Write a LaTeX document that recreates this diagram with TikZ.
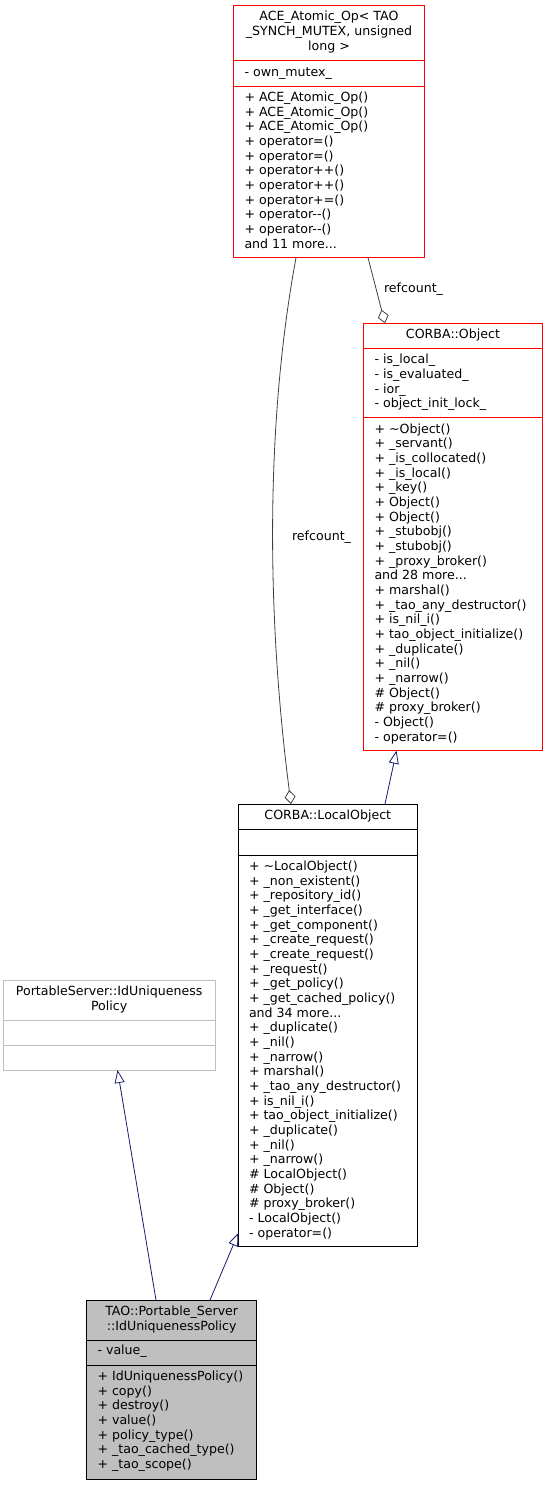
\documentclass[tikz,border=0pt]{standalone}
\usepackage{fontspec}
\setmainfont{DejaVu Sans}
\usetikzlibrary{arrows.meta}
\definecolor{edgenavy}{HTML}{191970}
\definecolor{aggr}{HTML}{404040}
\definecolor{greyfill}{HTML}{BFBFBF}
\begin{document}
\begin{tikzpicture}[x=1pt,y=-1pt,
  txt/.style={inner sep=0pt, outer sep=0pt, anchor=north west, align=left, font=\fontsize{12.6}{14.67}\selectfont},
  ttl/.style={inner sep=0pt, outer sep=0pt, anchor=north, align=center, font=\fontsize{12.6}{14.67}\selectfont},
  cls/.style={draw, line width=0.9pt, inner sep=0pt, outer sep=0pt, anchor=north west},
  sep/.style={line width=0.9pt},
  inh/.style={draw=edgenavy, line width=0.8pt, -{Triangle[open, length=13pt, width=10pt]}},
  agg/.style={draw=aggr, line width=0.8pt, -{Diamond[open, length=14pt, width=11pt]}},
  lbl/.style={inner sep=0pt, font=\fontsize{12.6}{14.67}\selectfont}
]
\useasboundingbox (0,0) rectangle (548,1485);

% ACE_Atomic_Op
\node[cls, draw=red, minimum width=190.5pt, minimum height=252pt] (ace) at (233.5,5.7) {};
\draw[sep, red] (ace.west |- 0,60.7) -- (ace.east |- 0,60.7);
\draw[sep, red] (ace.west |- 0,86) -- (ace.east |- 0,86);
\node[ttl] (acet) at (329,10.5) {\strut ACE\_Atomic\_Op< TAO\\\_SYNCH\_MUTEX, unsigned\\long >};
\node[txt] (acea) at (244.5,66.2) {\strut - own\_mutex\_};
\node[txt] (acem) at (244.5,91.2) {\strut + ACE\_Atomic\_Op()\\+ ACE\_Atomic\_Op()\\+ ACE\_Atomic\_Op()\\+ operator=()\\+ operator=()\\+ operator++()\\+ operator++()\\+ operator+=()\\+ operator-{}-()\\+ operator-{}-()\\and 11 more...};

% CORBA::Object
\node[cls, draw=red, minimum width=179.4pt, minimum height=427.4pt] (obj) at (363.3,323.3) {};
\draw[sep, red] (obj.west |- 0,348.7) -- (obj.east |- 0,348.7);
\draw[sep, red] (obj.west |- 0,417.3) -- (obj.east |- 0,417.3);
\node[ttl] (objt) at (453,327.8) {\strut CORBA::Object};
\node[txt] (obja) at (374.5,353.5) {\strut - is\_local\_\\- is\_evaluated\_\\- ior\_\\- object\_init\_lock\_};
\node[txt] (objm) at (374.5,422.8) {\strut + \textasciitilde Object()\\+ \_servant()\\+ \_is\_collocated()\\+ \_is\_local()\\+ \_key()\\+ Object()\\+ Object()\\+ \_stubobj()\\+ \_stubobj()\\+ \_proxy\_broker()\\and 28 more...\\+ marshal()\\+ \_tao\_any\_destructor()\\+ is\_nil\_i()\\+ tao\_object\_initialize()\\+ \_duplicate()\\+ \_nil()\\+ \_narrow()\\\# Object()\\\# proxy\_broker()\\- Object()\\- operator=()};

% CORBA::LocalObject
\node[cls, draw=black, minimum width=179pt, minimum height=442.7pt] (lobj) at (238.3,804) {};
\draw[sep] (lobj.west |- 0,829.3) -- (lobj.east |- 0,829.3);
\draw[sep] (lobj.west |- 0,855) -- (lobj.east |- 0,855);
\node[ttl] (lobjt) at (327.8,809.5) {\strut CORBA::LocalObject};
\node[txt] (lobjm) at (249,860.2) {\strut + \textasciitilde LocalObject()\\+ \_non\_existent()\\+ \_repository\_id()\\+ \_get\_interface()\\+ \_get\_component()\\+ \_create\_request()\\+ \_create\_request()\\+ \_request()\\+ \_get\_policy()\\+ \_get\_cached\_policy()\\and 34 more...\\+ \_duplicate()\\+ \_nil()\\+ \_narrow()\\+ marshal()\\+ \_tao\_any\_destructor()\\+ is\_nil\_i()\\+ tao\_object\_initialize()\\+ \_duplicate()\\+ \_nil()\\+ \_narrow()\\\# LocalObject()\\\# Object()\\\# proxy\_broker()\\- LocalObject()\\- operator=()};

% PortableServer::IdUniquenessPolicy
\node[cls, draw=greyfill, minimum width=211.7pt, minimum height=90pt] (psp) at (3.3,980) {};
\draw[sep, greyfill] (psp.west |- 0,1020) -- (psp.east |- 0,1020);
\draw[sep, greyfill] (psp.west |- 0,1045.7) -- (psp.east |- 0,1045.7);
\node[ttl] (pspt) at (109.2,985.2) {\strut PortableServer::IdUniqueness\\Policy};

% TAO::Portable_Server::IdUniquenessPolicy
\node[cls, draw=black, fill=greyfill, minimum width=170pt, minimum height=179pt] (tao) at (86.7,1300) {};
\draw[sep] (tao.west |- 0,1340) -- (tao.east |- 0,1340);
\draw[sep] (tao.west |- 0,1365) -- (tao.east |- 0,1365);
\node[ttl] (taot) at (171.7,1305.2) {\strut TAO::Portable\_Server\\::IdUniquenessPolicy};
\node[txt] (taoa) at (97.5,1344.5) {\strut - value\_};
\node[txt] (taom) at (97.5,1370.2) {\strut + IdUniquenessPolicy()\\+ copy()\\+ destroy()\\+ value()\\+ policy\_type()\\+ \_tao\_cached\_type()\\+ \_tao\_scope()};

% connectors
\draw[agg] (ace.south -| 296,0) .. controls (266,420) and (266,610) .. (lobj.north -| 291,0);
\node[lbl] (rc1) at (321.5,537) {refcount\_};
\draw[agg] (ace.south -| 368,0) -- (obj.north -| 385,0);
\node[lbl] (rc2) at (413.5,289) {refcount\_};
\draw[inh] (lobj.north -| 385,0) -- (obj.south -| 396.5,0);
\draw[inh] (tao.north -| 156,0) -- (psp.south -| 117.5,0);
\draw[inh] (tao.north -| 210,0) -- (lobj.west |- 0,1233);
\end{tikzpicture}
\end{document}
